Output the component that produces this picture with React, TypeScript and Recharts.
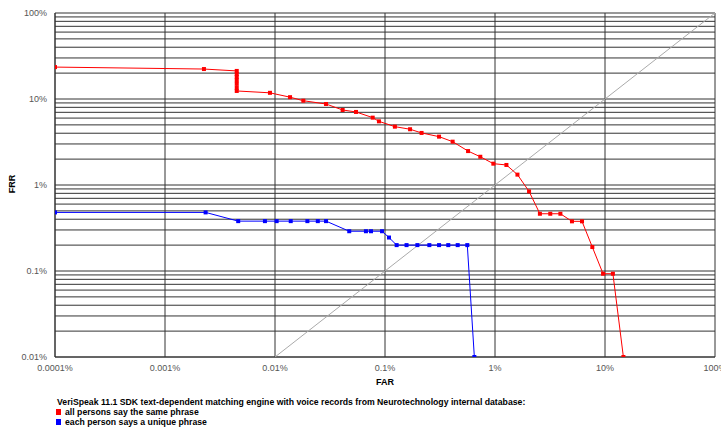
import React from 'react';
import { ScatterChart, Scatter, XAxis, YAxis, CartesianGrid } from 'recharts';

// FAR / FRR values in percent
const farSame = [0.0001, 0.00226, 0.00449, 0.00449, 0.00449, 0.00449, 0.00449, 0.00449, 0.00449, 0.009, 0.0137, 0.0181, 0.0291, 0.0412, 0.0545, 0.0773, 0.0881, 0.123, 0.169, 0.215, 0.31, 0.412, 0.569, 0.735, 0.966, 1.27, 1.6, 2.04, 2.56, 3.18, 3.93, 5.01, 6.18, 7.67, 9.6, 11.8, 14.7];
const frrSame = [23.5, 22.3, 21.2, 19.5, 18, 16.5, 15, 13.5, 12.4, 11.8, 10.5, 9.55, 8.75, 7.45, 7.07, 6.07, 5.5, 4.77, 4.45, 4.03, 3.65, 3.19, 2.48, 2.13, 1.77, 1.71, 1.32, 0.843, 0.463, 0.463, 0.463, 0.378, 0.378, 0.19, 0.093, 0.093, 0.01];

const farUnique = [0.0001, 0.00234, 0.00463, 0.0081, 0.01035, 0.0139, 0.0197, 0.0245, 0.0291, 0.0473, 0.0671, 0.0746, 0.094, 0.1087, 0.1276, 0.157, 0.197, 0.253, 0.31, 0.376, 0.458, 0.56, 0.649];
const frrUnique = [0.48, 0.48, 0.38, 0.38, 0.38, 0.38, 0.38, 0.38, 0.38, 0.29, 0.29, 0.29, 0.29, 0.245, 0.2, 0.2, 0.2, 0.2, 0.2, 0.2, 0.2, 0.2, 0.01];

// FAR = FRR reference line
const eerLine = [0.01, 100];

const xTicks = [0.0001, 0.001, 0.01, 0.1, 1, 10, 100];
const xTickLabels = ['0.0001%', '0.001%', '0.01%', '0.1%', '1%', '10%', '100%'];

const yDecades = [0.01, 0.1, 1, 10, 100];
const yTickLabels = ['0.01%', '0.1%', '1%', '10%', '100%'];
const yGridTicks = [
  0.01, 0.02, 0.03, 0.04, 0.05, 0.06, 0.07, 0.08, 0.09,
  0.1, 0.2, 0.3, 0.4, 0.5, 0.6, 0.7, 0.8, 0.9,
  1, 2, 3, 4, 5, 6, 7, 8, 9,
  10, 20, 30, 40, 50, 60, 70, 80, 90,
  100,
];

const seriesNames = ['all persons say the same phrase', 'each person says a unique phrase'];
const seriesColors = ['#ff0000', '#0000ff'];

const toPoints = (xs: number[], ys: number[]) => xs.map((x, i) => ({ x, y: ys[i] }));

const sameData = toPoints(farSame, frrSame);
const uniqueData = toPoints(farUnique, frrUnique);
const eerData = toPoints(eerLine, eerLine);

const font = '"Liberation Sans", Arial, sans-serif';

const square = (color: string) => (props: any) => (
  <rect x={props.cx - 2} y={props.cy - 2} width={4} height={4} fill={color} />
);

export default function App() {
  return (
    <div style={{ position: 'absolute', left: 0, top: 0, width: 721, height: 428, background: '#fff', fontFamily: font }}>
      <ScatterChart width={721} height={428} margin={{ top: 13, right: 6, bottom: 41, left: 0 }}>
        <CartesianGrid stroke="#333" strokeWidth={1} />
        <XAxis
          type="number"
          dataKey="x"
          scale="log"
          domain={[0.0001, 100]}
          ticks={xTicks}
          interval={0}
          allowDataOverflow
          tickLine={false}
          axisLine={{ stroke: '#333' }}
          height={30}
          tick={{ fontSize: 9, fill: '#555', fontFamily: font }}
          tickFormatter={(v: number) => xTickLabels[xTicks.indexOf(v)] ?? ''}
        />
        <YAxis
          type="number"
          dataKey="y"
          scale="log"
          domain={[0.01, 100]}
          ticks={yGridTicks}
          interval={0}
          allowDataOverflow
          tickLine={false}
          axisLine={{ stroke: '#333' }}
          width={55}
          tick={{ fontSize: 9, fill: '#555', fontFamily: font }}
          tickFormatter={(v: number) => yTickLabels[yDecades.indexOf(v)] ?? ''}
        />
        <Scatter
          data={eerData}
          line={{ stroke: '#aaa', strokeWidth: 1 }}
          shape={() => <g />}
          isAnimationActive={false}
        />
        <Scatter
          data={uniqueData}
          line={{ stroke: seriesColors[1], strokeWidth: 1 }}
          shape={square(seriesColors[1])}
          isAnimationActive={false}
        />
        <Scatter
          data={sameData}
          line={{ stroke: seriesColors[0], strokeWidth: 1 }}
          shape={square(seriesColors[0])}
          isAnimationActive={false}
        />
      </ScatterChart>

      <div style={{ position: 'absolute', left: 12, top: 184, transform: 'translate(-50%, -50%) rotate(-90deg)', fontSize: 9, fontWeight: 'bold', color: '#000' }}>
        FRR
      </div>
      <div style={{ position: 'absolute', left: 385, top: 382, transform: 'translate(-50%, -50%)', fontSize: 9, fontWeight: 'bold', color: '#000' }}>
        FAR
      </div>

      <div style={{ position: 'absolute', left: 57, top: 397, fontSize: 8.7, fontWeight: 'bold', color: '#000', lineHeight: '10px', whiteSpace: 'nowrap' }}>
        <div>VeriSpeak 11.1 SDK text-dependent matching engine with voice records from Neurotechnology internal database:</div>
        {seriesNames.map((name, i) => (
          <div key={name} style={{ display: 'flex', alignItems: 'center' }}>
            <span style={{ display: 'inline-block', width: 5, height: 6, background: seriesColors[i], marginLeft: -1, marginRight: 4 }} />
            {name}
          </div>
        ))}
      </div>
    </div>
  );
}
